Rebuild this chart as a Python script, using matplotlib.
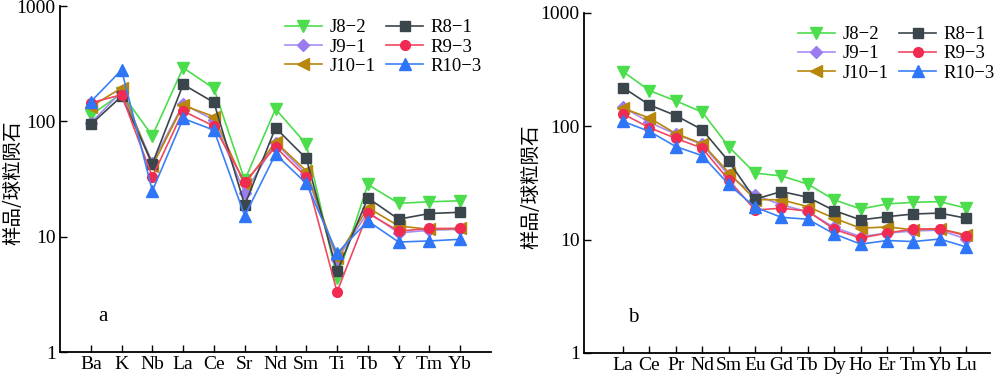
import matplotlib
matplotlib.use('Agg')
import matplotlib.pyplot as plt

# trace elements (left, a)
trace_elems = ['Ba', 'K', 'Nb', 'La', 'Ce', 'Sr', 'Nd', 'Sm', 'Ti', 'Tb', 'Y', 'Tm', 'Yb']
trace_J8_2 = [113, 175, 75, 292, 193, 31, 128, 63.5, 4.35, 28.4, 19.5, 20.1, 20.5]
trace_J9_1 = [97, 181, 44, 141, 103, 24, 65, 35, 6.3, 16.4, 10.8, 11.4, 11.6]
trace_J10_1 = [134, 195, 41, 138, 110, 28.4, 66.5, 37.3, 6.6, 17.9, 12.4, 11.6, 11.8]
trace_R8_1 = [94, 165, 43, 209, 146, 18.8, 88, 47.7, 5.0, 21.7, 14.2, 15.9, 16.3]
trace_R9_3 = [145, 170, 33, 123, 91, 29.8, 60, 33, 3.33, 16, 11.2, 11.8, 11.8]
trace_R10_3 = [148, 279, 25, 106, 84, 15.2, 52, 29, 7.2, 13.7, 9.0, 9.2, 9.5]

# REE (right, b)
ree_elems = ['La', 'Ce', 'Pr', 'Nd', 'Sm', 'Eu', 'Gd', 'Tb', 'Dy', 'Ho', 'Er', 'Tm', 'Yb', 'Lu']
ree_J8_2 = [303, 206, 167, 133, 66, 38.5, 36.4, 30.8, 22.4, 18.6, 20.6, 21.3, 21.6, 18.9]
ree_J9_1 = [147, 108, 85, 69, 37, 24.8, 20.2, 17.6, 12.8, 10.6, 11.4, 11.9, 12.1, 10.1]
ree_J10_1 = [144, 118, 86, 70, 39, 22.5, 22.4, 19.5, 15.4, 12.6, 12.9, 12.2, 12.4, 11.0]
ree_R8_1 = [219, 154, 124, 93, 49, 22.7, 26.5, 23.6, 18, 14.9, 15.9, 16.8, 17.1, 15.4]
ree_R9_3 = [128, 97, 78, 64, 33.6, 18.2, 18.9, 17.8, 12.3, 10.3, 11.4, 12.4, 12.4, 10.8]
ree_R10_3 = [110, 90, 66, 55, 30.7, 19.3, 15.7, 15.1, 11.2, 9.1, 9.8, 9.6, 10.1, 8.6]

# column-major legend order: J samples left, R samples right
names = ['J8-2', 'J9-1', 'J10-1', 'R8-1', 'R9-3', 'R10-3']
styles = {
    'J8-2': ('#4cdd4c', '#4cdd4c', 'v', 8),
    'J9-1': ('#a58df2', '#9b7cf0', 'D', 6.5),
    'J10-1': ('#b8860b', '#b8860b', '<', 8),
    'R8-1': ('#3a454c', '#3a454c', 's', 6.5),
    'R9-3': ('#f04860', '#f02a50', 'o', 7),
    'R10-3': ('#3a80f8', '#2f75f8', '^', 8),
}

serif = 'Liberation Serif'
plt.rcParams['font.family'] = [serif, 'DejaVu Sans']

fig = plt.figure(figsize=(10, 3.77), dpi=100)
ax1 = fig.add_axes([0.060, 0.066, 0.431, 0.918])
ax2 = fig.add_axes([0.584, 0.064, 0.406, 0.902])


def draw(ax, elems, data, xlim, tag, tagx, labx, legx):
    x = list(range(1, len(elems) + 1))
    for n in names:
        lc, mc, mk, ms = styles[n]
        ax.plot(x, data[n], color=lc, marker=mk, markerfacecolor=mc,
                markeredgecolor=mc, markersize=ms, linewidth=1.2,
                label=n.replace('-', '\u2212'))
    ax.set_yscale('log')
    ax.set_ylim(1, 1000)
    ax.set_xlim(*xlim)
    ax.set_xticks(x)
    ax.set_xticklabels(elems, fontsize=14, family=serif)
    ax.set_yticks([1, 10, 100, 1000])
    ax.set_yticklabels(['1', '10', '100', '1000'], fontsize=14, family=serif)
    ax.minorticks_off()
    ax.tick_params(axis='both', direction='in', length=5, width=1, pad=3)
    ax.spines['top'].set_visible(False)
    ax.spines['right'].set_visible(False)
    ax.spines['left'].set_linewidth(1.3)
    ax.spines['bottom'].set_linewidth(1.3)
    ax.set_ylabel('样品/球粒陨石', fontsize=14, family=['Noto Sans CJK SC'])
    ax.yaxis.set_label_coords(labx, 0.49)
    ax.text(tagx, 0.104, tag, transform=ax.transAxes, fontsize=15,
            family=serif, va='center', ha='center')
    ax.legend(ncol=2, loc='upper right', bbox_to_anchor=(legx, 1.0),
              frameon=False, handlelength=2.0, columnspacing=0.55,
              labelspacing=0.12, handletextpad=0.4, borderaxespad=0.3,
              prop={'family': serif, 'size': 13.5})


draw(ax1, trace_elems,
     {'J8-2': trace_J8_2, 'J9-1': trace_J9_1, 'J10-1': trace_J10_1,
      'R8-1': trace_R8_1, 'R9-3': trace_R9_3, 'R10-3': trace_R10_3},
     (0, 14), 'a', 0.099, -0.086, 1.01)
draw(ax2, ree_elems,
     {'J8-2': ree_J8_2, 'J9-1': ree_J9_1, 'J10-1': ree_J10_1,
      'R8-1': ree_R8_1, 'R9-3': ree_R9_3, 'R10-3': ree_R10_3},
     (-0.48, 14.9), 'b', 0.12, -0.106, 1.045)

fig.savefig('out.png', dpi=100)
